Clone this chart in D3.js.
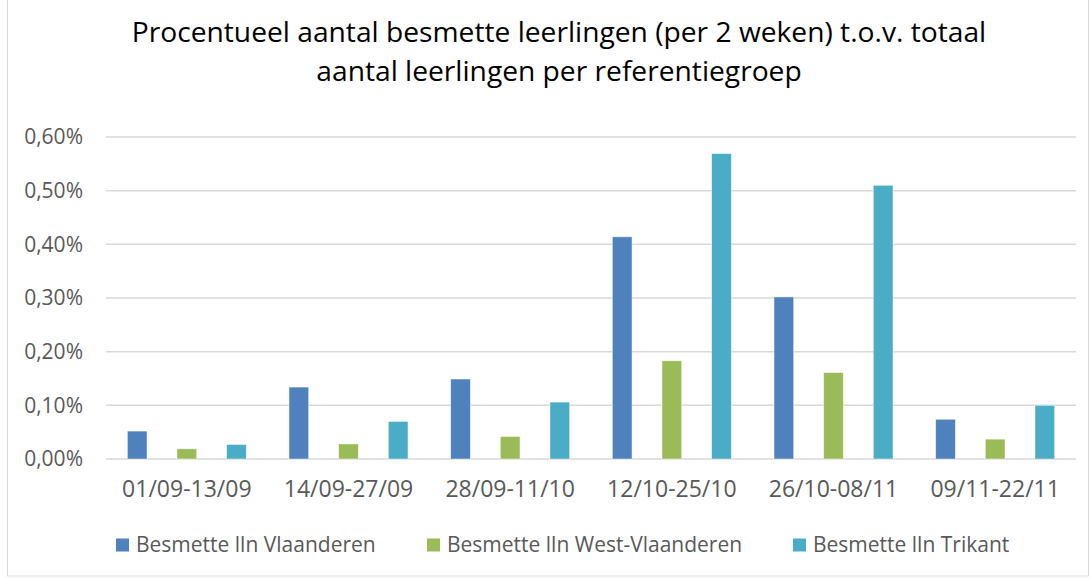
<!DOCTYPE html>
<html lang="nl">
<head>
<meta charset="UTF-8">
<title>Procentueel aantal besmette leerlingen</title>
<style>
  body { margin: 0; background: #fff; }
  svg { display: block; font-family: "Open Sans", "Noto Sans", sans-serif; }
  .grid line { stroke: #d9d9d9; stroke-width: 1.5; }
  .axis text { fill: #595959; font-family: "Open Sans", "Noto Sans", sans-serif; }
</style>
</head>
<body>
<div id="chart"></div>
<script src="https://cdnjs.cloudflare.com/ajax/libs/d3/7.8.5/d3.min.js"></script>
<script>
const periods = ["01/09-13/09", "14/09-27/09", "28/09-11/10", "12/10-25/10", "26/10-08/11", "09/11-22/11"];
const seriesNames = ["Besmette lln Vlaanderen", "Besmette lln West-Vlaanderen", "Besmette lln Trikant"];
const vlaanderen = [0.052, 0.134, 0.149, 0.414, 0.302, 0.074];
const westVlaanderen = [0.019, 0.028, 0.042, 0.183, 0.161, 0.037];
const trikant = [0.027, 0.070, 0.106, 0.569, 0.510, 0.100];
const yTicks = [0, 0.1, 0.2, 0.3, 0.4, 0.5, 0.6];
const colors = ["#4f81bd", "#9bbb59", "#4bacc6"];

const width = 1091, height = 578;
const margin = { left: 106, right: 15, top: 137, bottom: 119 };

const svg = d3.select("#chart").append("svg")
    .attr("width", width)
    .attr("height", height);

// chart border
svg.append("rect")
    .attr("x", 7.5).attr("y", -1)
    .attr("width", 1081).attr("height", 577)
    .attr("fill", "none")
    .attr("stroke", "#d9d9d9");

// title
const title = svg.append("text")
    .attr("text-anchor", "middle")
    .attr("fill", "#000")
    .style("font-size", "28.2px");
title.append("tspan").attr("x", 559).attr("y", 42)
    .text("Procentueel aantal besmette leerlingen (per 2 weken) t.o.v. totaal");
title.append("tspan").attr("x", 559).attr("y", 81)
    .text("aantal leerlingen per referentiegroep");

const x0 = d3.scaleBand()
    .domain(periods)
    .range([margin.left, width - margin.right])
    .padding(0);

const x1 = d3.scaleBand()
    .domain(d3.range(seriesNames.length))
    .range([0, x0.bandwidth()])
    .paddingInner(0.604)
    .paddingOuter(0.43);

const y = d3.scaleLinear()
    .domain([0, 0.6])
    .range([height - margin.bottom, margin.top]);

// gridlines
svg.append("g").attr("class", "grid")
    .selectAll("line")
    .data(yTicks)
    .join("line")
    .attr("x1", margin.left).attr("x2", width - margin.right)
    .attr("y1", d => y(d)).attr("y2", d => y(d));

// y axis labels
const yAxis = d3.axisLeft(y)
    .tickValues(yTicks)
    .tickSize(0)
    .tickPadding(23)
    .tickFormat(d => d3.format(".2f")(d).replace(".", ",") + "%");
svg.append("g").attr("class", "axis")
    .attr("transform", `translate(${margin.left},0)`)
    .call(yAxis)
    .call(g => g.select(".domain").remove())
    .selectAll("text").style("font-size", "21px");

// bars
const seriesData = [vlaanderen, westVlaanderen, trikant];
const groups = svg.append("g")
    .selectAll("g")
    .data(periods)
    .join("g")
    .attr("transform", d => `translate(${x0(d)},0)`);

groups.selectAll("rect")
    .data((p, i) => seriesData.map((s, k) => ({ k, v: s[i] })))
    .join("rect")
    .attr("x", d => x1(d.k))
    .attr("width", x1.bandwidth())
    .attr("y", d => y(d.v))
    .attr("height", d => y(0) - y(d.v))
    .attr("fill", d => colors[d.k])
    .attr("stroke", "#fff")
    .attr("stroke-opacity", 0.6)
    .attr("stroke-width", 0.75);

// x axis labels
const xAxis = d3.axisBottom(x0).tickSize(0).tickPadding(0);
svg.append("g").attr("class", "axis")
    .attr("transform", `translate(0,${y(0)})`)
    .call(xAxis)
    .call(g => g.select(".domain").remove())
    .selectAll("text")
    .attr("y", 38).attr("dy", null)
    .style("font-size", "23px");

// legend
const legendX = [116, 427, 793];
const legend = svg.append("g")
    .selectAll("g")
    .data(seriesNames)
    .join("g")
    .attr("transform", (d, i) => `translate(${legendX[i]},545)`);
legend.append("rect")
    .attr("x", 0).attr("y", -6.5)
    .attr("width", 13).attr("height", 13)
    .attr("fill", (d, i) => colors[i]);
legend.append("text")
    .attr("x", 20).attr("y", 7)
    .attr("fill", "#595959")
    .style("font-size", "21px")
    .text(d => d);
</script>
</body>
</html>
